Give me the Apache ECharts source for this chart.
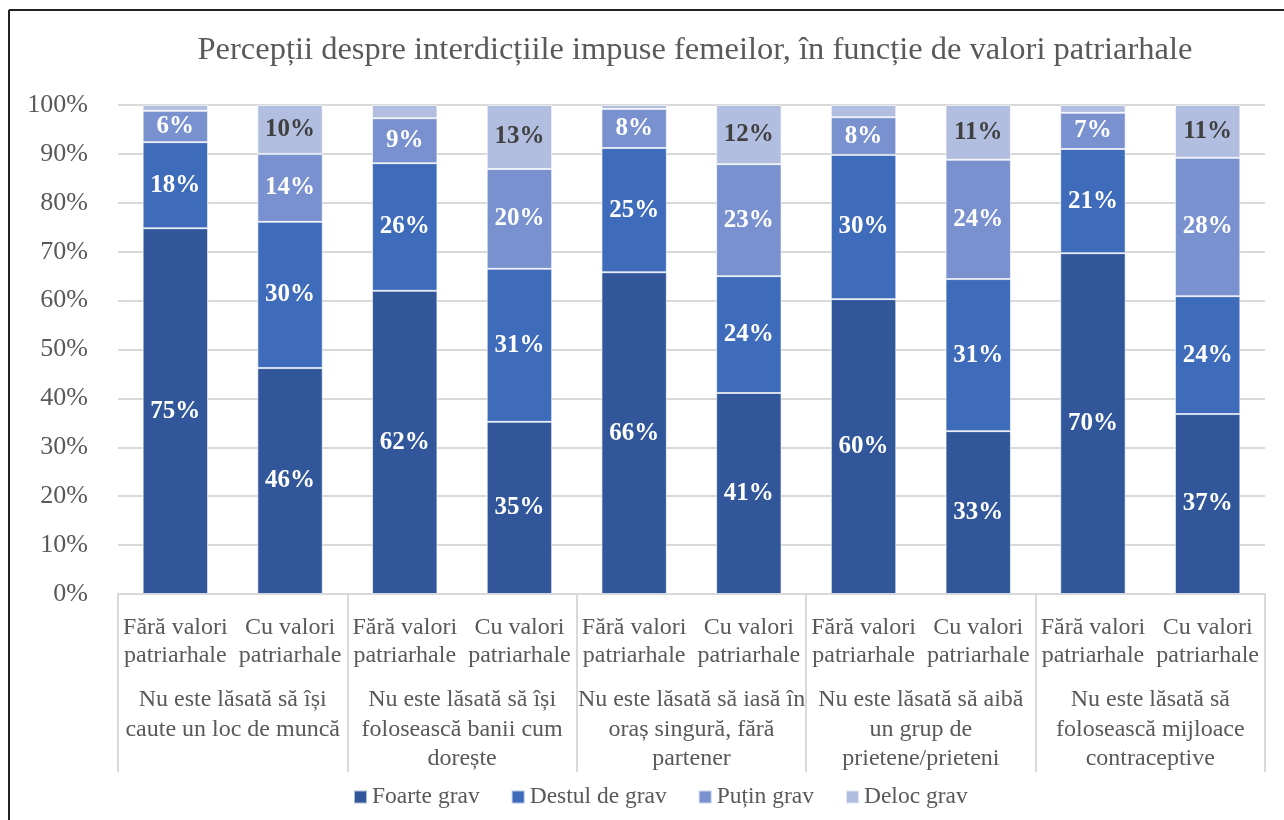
<!DOCTYPE html>
<html>
<head>
<meta charset="utf-8">
<script src="https://cdn.jsdelivr.net/npm/echarts@6/dist/echarts.min.js"></script>
<style>
  html, body { margin: 0; padding: 0; background: #fff; }
  #main { width: 1284px; height: 820px; }
</style>
</head>
<body>
<div id="main"></div>
<script>
// date (procente, fiecare coloana = 100%)
var subCategories = [
  'Fără valori\npatriarhale', 'Cu valori\npatriarhale',
  'Fără valori\npatriarhale', 'Cu valori\npatriarhale',
  'Fără valori\npatriarhale', 'Cu valori\npatriarhale',
  'Fără valori\npatriarhale', 'Cu valori\npatriarhale',
  'Fără valori\npatriarhale', 'Cu valori\npatriarhale'
];
var groups = [
  'Nu este lăsată să își\ncaute un loc de muncă',
  'Nu este lăsată să își\nfolosească banii cum\ndorește',
  'Nu este lăsată să iasă în\noraș singură, fără\npartener',
  'Nu este lăsată să aibă\nun grup de\nprietene/prieteni',
  'Nu este lăsată să\nfolosească mijloace\ncontraceptive'
];
var seriesNames = ['Foarte grav', 'Destul de grav', 'Puțin grav', 'Deloc grav'];
var foarteGrav = [74.8, 46.2, 62.0, 35.2, 65.8, 41.1, 60.3, 33.3, 69.7, 36.8];
var destulGrav = [17.6, 29.9, 26.1, 31.3, 25.4, 23.9, 29.5, 31.1, 21.3, 24.1];
var putinGrav  = [6.4, 13.9, 9.2, 20.4, 8.0, 22.9, 7.7, 24.4, 7.4, 28.3];
var delocGrav  = [1.2, 10.0, 2.7, 13.1, 0.8, 12.1, 2.5, 11.2, 1.6, 10.8];

var colors = ['#31579A', '#3E6BBA', '#7991CF', '#B2BEE0'];
var font = '"Liberation Serif", "Times New Roman", serif';

var myChart = echarts.init(document.getElementById('main'));

function makeSeries(name, data, idx) {
  return {
    name: name,
    type: 'bar',
    stack: 'total',
    xAxisIndex: 0,
    barCategoryGap: '43%',
    data: data,
    itemStyle: { color: colors[idx], borderColor: 'rgba(255,255,255,0.6)', borderWidth: 1 },
    label: {
      show: true,
      position: 'inside',
      fontFamily: font,
      fontWeight: 'bold',
      fontSize: 25,
      color: idx === 3 ? '#404040' : '#ffffff',
      formatter: function (p) {
        return p.value >= 5 ? Math.round(p.value) + '%' : '';
      }
    },
    emphasis: { disabled: true }
  };
}

var option = {
  animation: false,
  color: colors,
  title: {
    text: 'Percepții despre interdicțiile impuse femeilor, în funcție de valori patriarhale',
    left: 690,
    textAlign: 'center',
    top: 29,
    textStyle: { fontFamily: font, fontWeight: 'normal', fontSize: 32.5, color: '#595959' }
  },
  legend: {
    top: 785,
    left: 353,
    padding: 0,
    itemWidth: 13,
    itemHeight: 13,
    itemGap: 31,
    icon: 'rect',
    textStyle: { fontFamily: font, fontSize: 23.5, color: '#595959' },
    data: seriesNames
  },
  grid: { left: 118, right: 19, top: 105, bottom: 226, containLabel: false },
  xAxis: [
    {
      type: 'category',
      data: subCategories,
      position: 'bottom',
      axisLine: { lineStyle: { color: '#d9d9d9', width: 2 } },
      axisTick: { show: false },
      axisLabel: {
        interval: 0,
        margin: 20,
        fontFamily: font,
        fontSize: 24,
        lineHeight: 28,
        color: '#595959'
      }
    },
    {
      type: 'category',
      data: groups,
      position: 'bottom',
      axisLine: { show: false },
      axisTick: { show: true, length: 178, lineStyle: { color: '#d9d9d9', width: 2 } },
      axisLabel: {
        interval: 0,
        margin: 91,
        fontFamily: font,
        fontSize: 24,
        lineHeight: 29.5,
        color: '#595959'
      }
    }
  ],
  yAxis: {
    type: 'value',
    min: 0,
    max: 100,
    interval: 10,
    axisLine: { show: false },
    axisTick: { show: false },
    splitLine: { lineStyle: { color: '#d9d9d9', width: 2 } },
    axisLabel: {
      formatter: '{value}%',
      margin: 30,
      fontFamily: font,
      fontSize: 26,
      color: '#595959'
    }
  },
  graphic: [
    { type: 'line', shape: { x1: 9, y1: 10, x2: 1284, y2: 10 }, style: { stroke: '#222', lineWidth: 2 } },
    { type: 'line', shape: { x1: 9, y1: 10, x2: 9, y2: 820 }, style: { stroke: '#222', lineWidth: 2 } }
  ],
  series: [
    makeSeries(seriesNames[0], foarteGrav, 0),
    makeSeries(seriesNames[1], destulGrav, 1),
    makeSeries(seriesNames[2], putinGrav, 2),
    makeSeries(seriesNames[3], delocGrav, 3)
  ]
};

myChart.setOption(option);
</script>
</body>
</html>
